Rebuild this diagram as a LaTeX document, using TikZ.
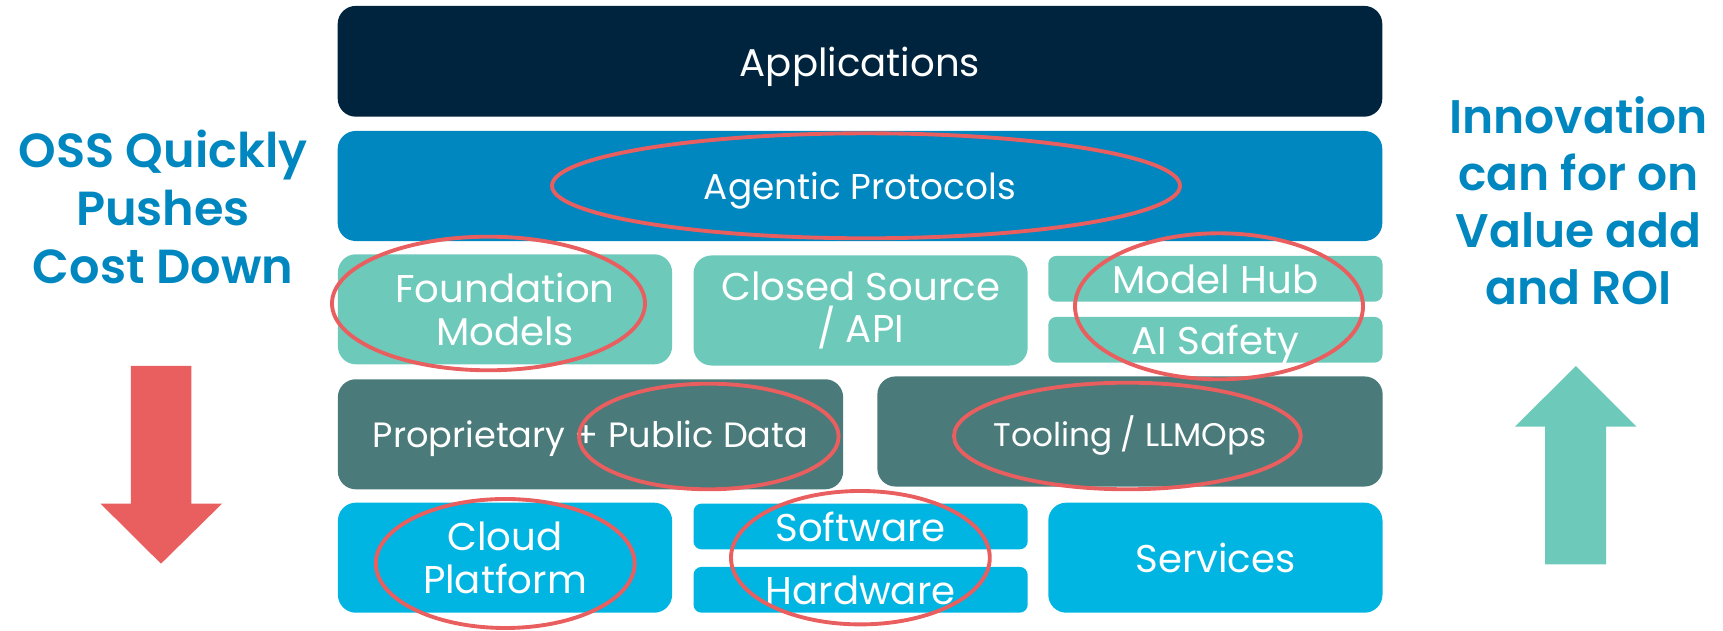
\documentclass[tikz,border=0pt]{standalone}
\usepackage{fontspec}
\setmainfont{Poppins}
\newfontfamily\semibold{Poppins SemiBold}
\definecolor{navy}{RGB}{0,36,62}
\definecolor{agentblue}{RGB}{0,135,192}
\definecolor{mint}{RGB}{109,202,187}
\definecolor{slate}{RGB}{74,122,122}
\definecolor{sky}{RGB}{0,181,226}
\definecolor{coral}{RGB}{233,94,94}
\begin{document}
\begin{tikzpicture}
        [x=0.01cm, y=-0.01cm,
        layer/.style={rectangle, rounded corners=0.18cm, inner sep=0pt, text=white, align=center,
          font=\fontsize{11}{12.1}\selectfont},
        big/.style={layer, minimum width=3.34cm, minimum height=1.1cm},
        half/.style={layer, rounded corners=0.08cm, minimum width=3.34cm, minimum height=0.457cm},
        wide/.style={layer, minimum width=5.05cm, minimum height=1.1cm},
        flat/.style={text depth=0pt},
        ring/.style={coral, line width=1.1pt},
        side/.style={text=agentblue, align=center, font=\semibold\fontsize{13.6}{16.5}\selectfont}]

        \useasboundingbox (0,0) rectangle (1723,631);

        % the stack, top to bottom
        \node[layer, flat, fill=navy, minimum width=10.44cm, minimum height=1.107cm] (app) at (860,61.3) {Applications};
        \node[layer, flat, fill=agentblue, minimum width=10.44cm, minimum height=1.1cm,
          font=\fontsize{10.2}{12}\selectfont] (agent) at (860,186) {Agentic Protocols};

        \node[big, fill=mint] (found) at (505,309.3) {Foundation\\Models};
        \node[big, fill=mint] (closed) at (860.6,310.5) {Closed Source\\/ API};
        \node[half, flat, fill=mint] (hub) at (1215.4,278.8) {Model Hub};
        \node[half, flat, fill=mint] (safety) at (1215.4,339.8) {AI Safety};

        \node[wide, flat, fill=slate, font=\fontsize{10}{12}\selectfont] (data) at (590.5,434.3) {Proprietary + Public Data};
        \node[wide, flat, fill=slate, font=\fontsize{9.3}{12}\selectfont] (tool) at (1130,431.5) {Tooling / LLMOps};

        \node[big, fill=sky] (cloud) at (505,557.7) {Cloud\\Platform};
        \node[half, flat, fill=sky] (soft) at (860.6,526.5) {Software};
        \node[half, flat, fill=sky] (hard) at (860.6,589.8) {Hardware};
        \node[big, flat, fill=sky] (serv) at (1215.4,557.7) {Services};

        % side captions
        \node[side] (cost) at (163,207) {OSS Quickly\\Pushes\\Cost Down};
        \node[side, font=\semibold\fontsize{13.4}{16.2}\selectfont] (value) at (1578.5,201) {Innovation\\can for on\\Value add\\and ROI};

        % arrows
        \fill[coral] (130.9,366) -- (191.3,366) -- (191.3,503.7) -- (222,503.7) -- (161,563.7)
          -- (100.6,503.7) -- (130.9,503.7) -- cycle;
        \fill[mint] (1545,564.3) -- (1606.2,564.3) -- (1606.2,426.7) -- (1636.5,426.7) -- (1575.8,366)
          -- (1515,426.7) -- (1545,426.7) -- cycle;

        % red rings
        \draw[ring] (866,185.8) ellipse (314 and 52.5);
        \draw[ring] (488.5,303.5) ellipse (156.5 and 66.8);
        \draw[ring] (1219,306.3) ellipse (144 and 73);
        \draw[ring] (708.8,436.5) ellipse (129.8 and 52.8);
        \draw[ring] (1127.4,436) ellipse (173.4 and 53.3);
        \draw[ring] (505.2,563.5) ellipse (129.4 and 64.5);
        \draw[ring] (860.4,557.7) ellipse (129.4 and 66.7);

        \end{tikzpicture}
\end{document}
